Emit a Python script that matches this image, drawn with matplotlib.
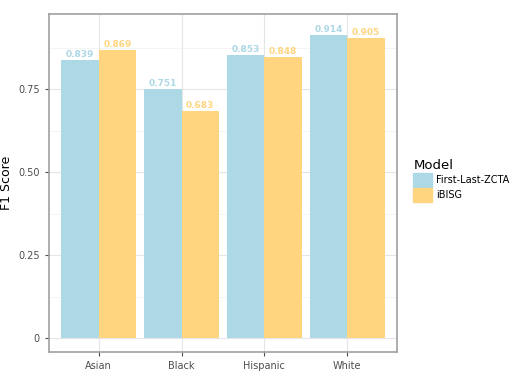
import matplotlib.pyplot as plt
import matplotlib.patches as mpatches
import numpy as np

## Данные
groups = ["Asian", "Black", "Hispanic", "White"]
zcta = [0.839, 0.751, 0.853, 0.914]
bisg = [0.869, 0.683, 0.848, 0.905]
models = ["First-Last-ZCTA", "iBISG"]
colors = ["#ADD8E6", "#FFD580"]

fig = plt.figure(figsize=(5.12, 3.84), dpi=100)
ax = fig.add_axes([0.0957, 0.0833, 0.6797, 0.8802])

x = np.arange(1, len(groups) + 1)
w = 0.45
for vals, off, c in [(zcta, -w / 2, colors[0]), (bisg, w / 2, colors[1])]:
    ax.bar(x + off, vals, width=w, color=c, zorder=3)
    for xi, v in zip(x + off, vals):
        ax.text(xi, v + 0.003, f"{v:.3f}", ha="center", va="bottom",
                color=c, fontsize=6.5, fontweight="bold", zorder=4)

## Оси и сетка
ax.set_xlim(0.4, 4.6)
ax.set_ylim(-0.042, 0.976)
ax.set_xticks(x)
ax.set_xticklabels(groups)
ax.set_yticks([0, 0.25, 0.5, 0.75])
ax.set_yticklabels(["0", "0.25", "0.50", "0.75"])
ax.set_yticks([0.125, 0.375, 0.625, 0.875], minor=True)
ax.grid(which="major", color="#E5E5E5", linewidth=0.8, zorder=0)
ax.grid(which="minor", axis="y", color="#F0F0F0", linewidth=0.5, zorder=0)
ax.tick_params(axis="both", which="major", labelsize=7, colors="#4D4D4D",
               length=3, width=0.8, labelcolor="#4D4D4D")
ax.tick_params(axis="y", which="minor", length=0)
for s in ax.spines.values():
    s.set_color("#A0A0A0")
    s.set_linewidth(1.2)

ax.set_ylabel("F1 Score", fontsize=9)

## Легенда
handles = [mpatches.Patch(color=c, label=m) for m, c in zip(models, colors)]
leg = fig.legend(handles=handles, title="Model", loc="center left",
                 bbox_to_anchor=(0.796, 0.53), frameon=False, fontsize=7,
                 title_fontsize=9.5, handlelength=1.9, handleheight=1.8,
                 handletextpad=0.4, labelspacing=0.15, borderaxespad=0.2)
leg._legend_box.align = "left"

fig.savefig("out.png", dpi=100)
